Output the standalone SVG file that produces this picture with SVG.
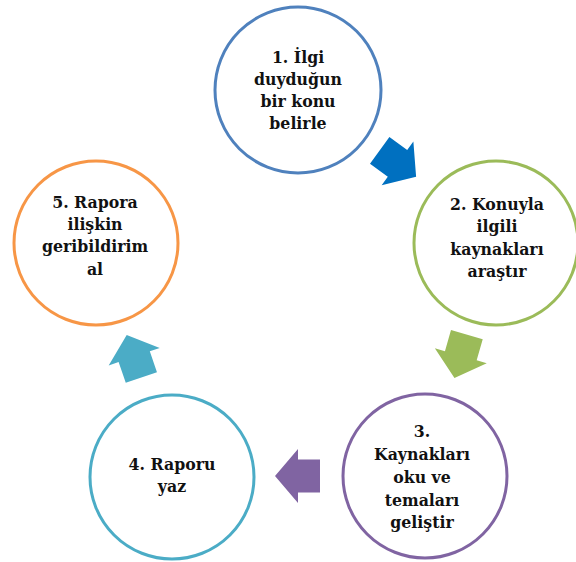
<svg xmlns="http://www.w3.org/2000/svg" width="576" height="562" viewBox="0 0 576 562">
<defs>
<style>
.node circle{fill:#fff;stroke-width:3}
.node text{font-family:'DejaVu Serif Condensed','DejaVu Serif',serif;font-stretch:condensed;font-weight:700;font-size:17.5px;fill:#111;text-anchor:middle}
</style>
<path id="arr" d="M-22,-16.5 L0,-16.5 L0,-27 L23,0 L0,27 L0,16.5 L-22,16.5 Z"/>
</defs>
<rect width="576" height="562" fill="#fff"/>
<g id="connectors">
<use href="#arr" fill="#0070C0" transform="translate(397.5,163.3) rotate(36)"/>
<use href="#arr" fill="#9BBB59" transform="translate(460.8,355.8) rotate(106)"/>
<use href="#arr" fill="#8064A2" transform="translate(298,476) rotate(180)"/>
<use href="#arr" fill="#4BACC6" transform="translate(134.2,356.7) rotate(-109)"/>
</g>
<g id="node1" class="node">
<circle cx="298" cy="90" r="83" stroke="#4F81BD"/>
<text x="298" y="63">1. İlgi</text>
<text x="298" y="85">duyduğun</text>
<text x="298" y="107">bir konu</text>
<text x="298" y="129">belirle</text>
</g>
<g id="node2" class="node">
<circle cx="496" cy="243" r="82" stroke="#9BBB59"/>
<text x="497" y="210">2. Konuyla</text>
<text x="497" y="232">ilgili</text>
<text x="497" y="255">kaynakları</text>
<text x="497" y="277">araştır</text>
</g>
<g id="node3" class="node">
<circle cx="425" cy="476" r="82" stroke="#8064A2"/>
<text x="422" y="437">3.</text>
<text x="422" y="460">Kaynakları</text>
<text x="422" y="483">oku ve</text>
<text x="422" y="506">temaları</text>
<text x="422" y="528">geliştir</text>
</g>
<g id="node4" class="node">
<circle cx="172" cy="477" r="82" stroke="#4BACC6"/>
<text x="172" y="470">4. Raporu</text>
<text x="172" y="492">yaz</text>
</g>
<g id="node5" class="node">
<circle cx="96" cy="243" r="82" stroke="#F79646"/>
<text x="95" y="208">5. Rapora</text>
<text x="95" y="230">ilişkin</text>
<text x="95" y="252">geribildirim</text>
<text x="95" y="275">al</text>
</g>
</svg>
